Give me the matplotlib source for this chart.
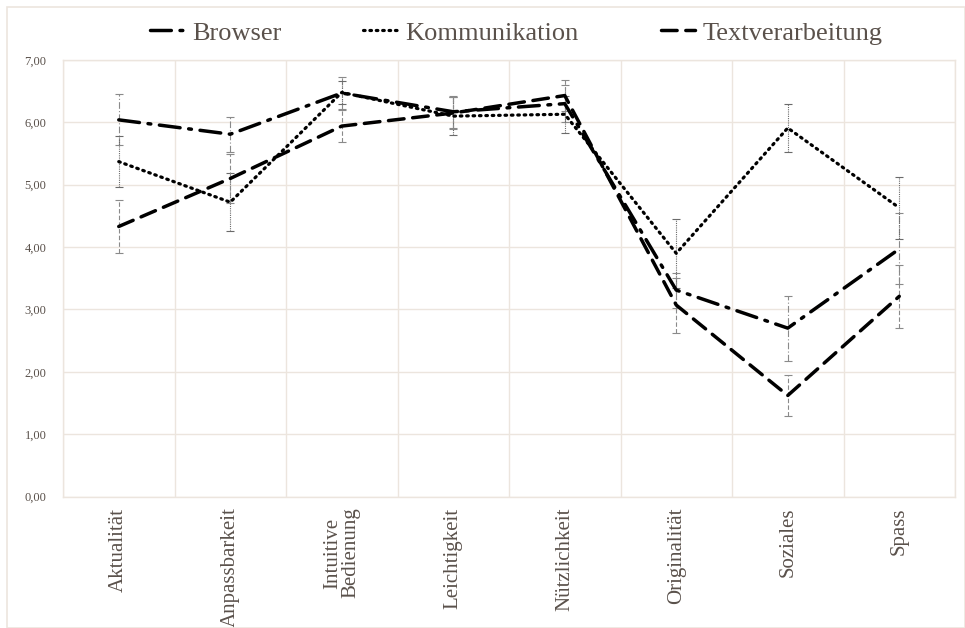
import numpy as np
import matplotlib
matplotlib.use('Agg')
import matplotlib.pyplot as plt
from matplotlib.patches import Rectangle
from matplotlib.ticker import FuncFormatter

plt.rcParams['font.family'] = ['Liberation Serif', 'DejaVu Serif']

# data
categories = ['Aktualität', 'Anpassbarkeit', 'Intuitive\nBedienung', 'Leichtigkeit',
              'Nützlichkeit', 'Originalität', 'Soziales', 'Spass']
browser = [6.04, 5.81, 6.47, 6.17, 6.30, 3.31, 2.70, 3.97]
browser_err = [0.41, 0.28, 0.26, 0.26, 0.30, 0.28, 0.52, 0.57]
kommunikation = [5.37, 4.72, 6.48, 6.10, 6.13, 3.90, 5.91, 4.63]
kommunikation_err = [0.41, 0.47, 0.18, 0.30, 0.30, 0.55, 0.39, 0.50]
textverarbeitung = [4.33, 5.10, 5.94, 6.15, 6.43, 3.07, 1.62, 3.21]
textverarbeitung_err = [0.43, 0.40, 0.26, 0.26, 0.25, 0.44, 0.33, 0.50]

grid_col = '#ece5de'
text_col = '#5a514b'

fig = plt.figure(figsize=(9.65, 6.28), dpi=100)
fig.patches.append(Rectangle((7 / 965, 0), 1 - 7 / 965, 1 - 7 / 628, transform=fig.transFigure,
                             fill=False, edgecolor=grid_col, linewidth=1.2))
ax = fig.add_axes([63 / 965, 1 - 496.5 / 628, (955 - 63) / 965, (496.5 - 60) / 628])

x = np.arange(len(categories))

series = [
    ('Browser', browser, browser_err, (0, (6, 2.5, 0.8, 2.5)), '#8a8a8a', (0, (6, 2, 1, 2))),
    ('Kommunikation', kommunikation, kommunikation_err, (0, (0.5, 1.5)), '#6a6a6a', (0, (1, 1))),
    ('Textverarbeitung', textverarbeitung, textverarbeitung_err, (0, (4.5, 2.5)), '#8a8a8a', (0, (4, 2))),
]

for name, vals, err, ls, ecol, els in series:
    eb = ax.errorbar(x, vals, yerr=err, fmt='none', ecolor=ecol, elinewidth=0.8,
                     capsize=3, capthick=0.8, zorder=2)
    eb[2][0].set_linestyle(els)

for name, vals, err, ls, ecol, els in series:
    lw = 2.5 if name != 'Kommunikation' else 2.3
    ax.plot(x, vals, color='black', linestyle=ls, linewidth=lw,
            dash_capstyle='round', label=name, zorder=3)

ax.set_xlim(-0.5, len(categories) - 0.5)
ax.set_ylim(0, 7)
ax.set_yticks(np.arange(0, 8, 1))
ax.yaxis.set_major_formatter(FuncFormatter(lambda v, p: f'{v:.2f}'.replace('.', ',')))
ax.set_xticks(x)
ax.set_xticklabels(categories, rotation=90, va='top', ha='center', linespacing=0.95)
ax.set_xticks(np.arange(-0.5, len(categories), 1), minor=True)

ax.grid(axis='y', which='major', color=grid_col, linewidth=1.0)
ax.grid(axis='x', which='minor', color=grid_col, linewidth=1.0)
ax.grid(axis='x', which='major', visible=False)
ax.tick_params(axis='both', which='both', length=0)
ax.tick_params(axis='y', labelsize=9, labelcolor=text_col, pad=12)
ax.tick_params(axis='x', labelsize=15, labelcolor=text_col, pad=8)
for s in ax.spines.values():
    s.set_color(grid_col)
    s.set_linewidth(1.0)
ax.set_axisbelow(True)

leg = fig.legend(loc='center', bbox_to_anchor=(0.535, 1 - 33 / 628), ncol=3, frameon=False,
                 fontsize=19, handlelength=1.3, columnspacing=3.1, handletextpad=0.3)
for t in leg.get_texts():
    t.set_color(text_col)

fig.savefig('out.png', dpi=100)
